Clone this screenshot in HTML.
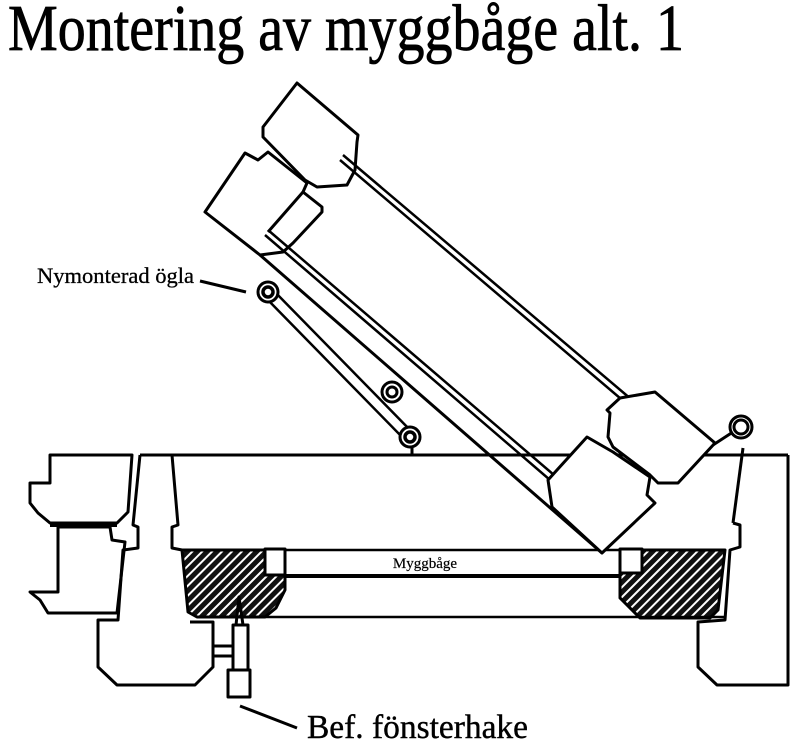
<!DOCTYPE html>
<html><head><meta charset="utf-8"><style>
html,body{margin:0;padding:0;background:#fff;}
svg{display:block;}
text{font-family:"Liberation Serif",serif;fill:#000;}
</style></head><body>
<svg width="800" height="749" viewBox="0 0 800 749" xmlns="http://www.w3.org/2000/svg">
<defs>
<pattern id="h" width="7" height="7" patternUnits="userSpaceOnUse" patternTransform="rotate(45)">
<rect width="7" height="7" fill="#111"/>
<rect x="0" y="0" width="2" height="7" fill="#fff"/>
</pattern>
</defs>
<text x="8" y="50" font-size="66" textLength="676" lengthAdjust="spacingAndGlyphs" stroke="#000" stroke-width="0.8">Montering av myggbåge alt. 1</text>
<text x="37" y="283" font-size="22" textLength="157" lengthAdjust="spacingAndGlyphs" stroke="#000" stroke-width="0.3">Nymonterad ögla</text>
<text x="307" y="738" font-size="34" textLength="221" lengthAdjust="spacingAndGlyphs" stroke="#000" stroke-width="0.4">Bef. fönsterhake</text>
<text x="425" y="568" font-size="15" text-anchor="middle" stroke="#000" stroke-width="0.2">Myggbåge</text>

<g fill="none" stroke="#000" stroke-width="3" stroke-linejoin="round">
<line x1="200" y1="281" x2="246" y2="292"/>
<line x1="240" y1="706" x2="297" y2="728"/>

<path d="M50,455 L132,455 L128,512 L117,523 L50,523 L38,513 L30,503 L30,483 L50,483 Z"/>
<path d="M58,527 L58,592 L30,592 L40,600 L48,613 L117,613 L125,542 L112,540 L110,527 Z"/>
<line x1="50" y1="525" x2="117" y2="525" stroke-width="4"/>

<line x1="140" y1="455" x2="788" y2="455"/>
<path d="M140,455 L133,525 L138,527 L138,548 L123,550 L118,620 L98,620 L98,667 L117,685 L195,685 L213,667 L213,622 L190,622"/>
<path d="M172,455 L178,525 L172,527 L172,548 L182,550"/>

<path d="M182,550 L285,550 L285,590 L276,608 L265,617 L197,617 L188,612 Z" fill="url(#h)"/>
<rect x="265" y="549" width="20" height="26" fill="#fff"/>
<path d="M620,550 L725,550 L718,610 L710,618 L640,618 L628,606 L620,598 Z" fill="url(#h)"/>
<rect x="620" y="549" width="22" height="24" fill="#fff"/>
<line x1="285" y1="550" x2="620" y2="550" stroke-width="2.5"/>
<line x1="285" y1="576" x2="620" y2="576" stroke-width="4"/>
<line x1="197" y1="617" x2="725" y2="617" stroke-width="2.5"/>

<path d="M733,523 L740,525 L740,547 L730,550 L725,620 L698,622 L698,667 L717,685 L788,685 L788,455"/>
<line x1="743" y1="448" x2="733" y2="523"/>

<rect x="233" y="625" width="15" height="45"/>
<rect x="228" y="670" width="22" height="27"/>
<path d="M236,625 L239,597 L243,625"/>
<path d="M213,646 L232,646 M213,656 L232,656"/>

<path d="M297,83 L358,135 L357,142 L355,170 L347,185 L317,187 L305,180 L263,137 L263,127 Z" fill="#fff"/>
<path d="M245,153 L258,160 L268,152 L307,183 L303,192 L322,207 L322,212 L293,243 L283,252 L260,255 L205,212 Z" fill="#fff"/>
<path d="M268,232 L303,192"/>
<line x1="260" y1="255" x2="602" y2="553"/>
<path d="M343,155 L638,405 M340,160 L634,410" stroke-width="2.5"/>
<path d="M268,230 L575,493 M265,235 L571,498" stroke-width="2.5"/>

<path d="M607,410 L620,398 L655,392 L715,443 L678,483 L658,483 L650,475 L613,447 L608,437 L610,413 Z" fill="#fff"/>
<path d="M587,437 L613,452 L650,477 L647,495 L655,503 L602,553 L552,507 L548,480 L557,470 Z" fill="#fff"/>
<line x1="713" y1="445" x2="736" y2="430"/>

<circle cx="741" cy="427" r="11" fill="#fff"/>
<circle cx="741" cy="427" r="7"/>

<path d="M265,297 L405,440 M272,289 L413,433" stroke-width="2.5"/>
<circle cx="268" cy="292" r="10" fill="#fff"/>
<circle cx="268" cy="292" r="5" stroke-width="3.5"/>
<circle cx="392" cy="392" r="10" fill="#fff"/>
<circle cx="392" cy="392" r="5"/>
<circle cx="410" cy="437" r="10" fill="#fff"/>
<circle cx="410" cy="437" r="5" stroke-width="3.5"/>
<line x1="412" y1="447" x2="412" y2="455"/>
</g>
</svg>
</body></html>
